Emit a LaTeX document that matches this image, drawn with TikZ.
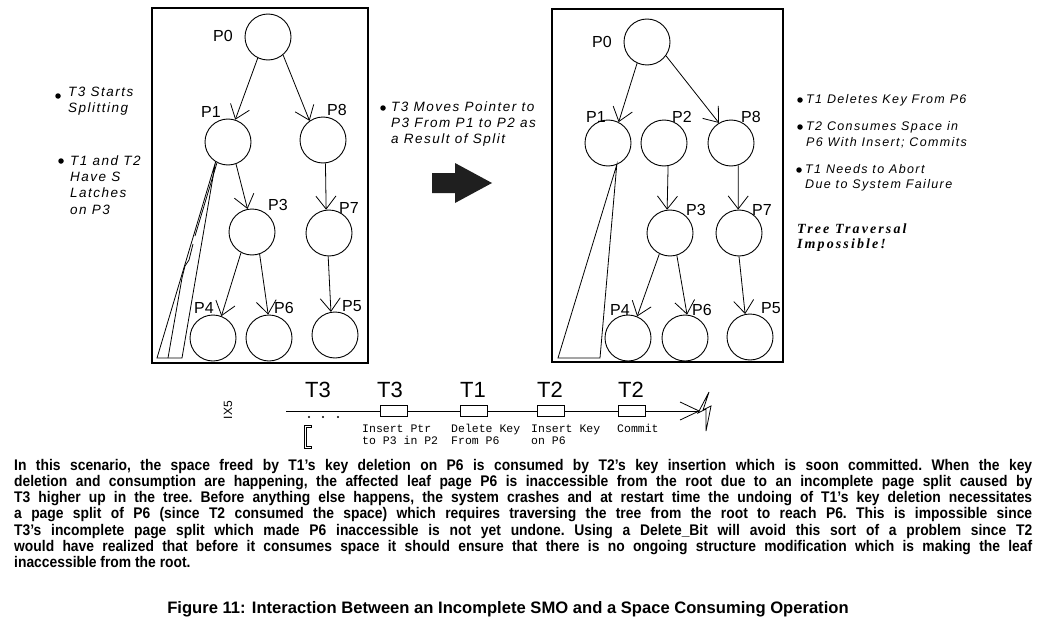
\documentclass[tikz,border=0pt]{standalone}
\usepackage{fontspec}
\setmainfont{Liberation Sans}
\newfontfamily\figfont[LetterSpace=11]{Liberation Sans}
\newfontfamily\tlfont{Liberation Mono}
\newfontfamily\exclfont[LetterSpace=15]{Liberation Serif}
\newfontfamily\bodyfont[FakeStretch=0.9]{Liberation Sans}
\usetikzlibrary{arrows.meta}
\begin{document}
\begin{tikzpicture}[x=1pt,y=-1pt,
  page/.style={circle,draw,line width=0.9pt,minimum size=46pt,inner sep=0pt},
  plabel/.style={font=\fontsize{16}{16}\selectfont,inner sep=0pt},
  link/.style={line width=0.8pt,-{Straight Barb[length=13pt,width=20pt,line width=0.8pt]}},
  frame/.style={line width=1.1pt},
  wedge/.style={line width=0.8pt,line join=miter},
  note/.style={font=\figfont\itshape\fontsize{13.5}{16.3}\selectfont,align=left,inner sep=0pt,anchor=west},
  rnote/.style={note,font=\figfont\itshape\fontsize{12.5}{15.5}\selectfont},
  dot/.style={circle,fill,inner sep=0pt,minimum size=5.5pt},
  tlabel/.style={font=\fontsize{22}{22}\selectfont,inner sep=0pt},
  tbox/.style={draw,fill=white,line width=0.8pt,minimum width=27pt,minimum height=11pt,inner sep=0pt},
  tnote/.style={font=\tlfont\fontsize{11.5}{11.5}\selectfont,align=left,inner sep=0pt,anchor=north west},
]
\useasboundingbox (0,0) rectangle (1047,634);
\fill[white] (0,0) rectangle (1047,634);

% ---------- left frame and tree ----------
\draw[frame] (152,8) rectangle (368,363);
\node[page] (LP0) at (268,37) {};
\node[page] (LP1) at (228,142) {};
\node[page] (LP8) at (323,140) {};
\node[page] (LP3) at (252,232) {};
\node[page] (LP7) at (329,233) {};
\node[page] (LP4) at (213,338) {};
\node[page] (LP6) at (269,338) {};
\node[page] (LP5) at (335,335) {};
\node[plabel] (LP0l) at (223,36) {P0};
\node[plabel] (LP1l) at (211,112) {P1};
\node[plabel] (LP8l) at (337,110) {P8};
\node[plabel] (LP3l) at (278,205) {P3};
\node[plabel] (LP7l) at (349,208) {P7};
\node[plabel] (LP4l) at (204,308) {P4};
\node[plabel] (LP6l) at (284,308) {P6};
\node[plabel] (LP5l) at (352,306) {P5};
\draw[link] (LP0.244) -- (LP1.72);
\draw[link] (LP0.310) -- (LP8.125);
\draw[link] (LP1.290) -- (LP3.101);
\draw[link] (LP8.276) -- (LP7.97);
\draw[link] (LP3.242) -- (LP4.69);
\draw[link] (LP3.289) -- (LP6.92);
\draw[link] (LP7.268) -- (LP5.100);
\draw[wedge] (LP1.238) -- (157,358) -- (182,358) -- cycle;
\draw[wedge] (LP1.242) -- (195,236);
\draw[wedge] (193,244) -- (189,260) -- (185,266) -- (182,278) -- (168,358);

% ---------- left notes ----------
\node[dot] (b1) at (58,96) {};
\node[note] (n1) at (68,101) {T3 Starts\\Splitting};
\node[dot] (b2) at (61,161) {};
\node[note] (n2) at (70,185) {T1 and T2\\Have S\\Latches\\on P3};

% ---------- middle ----------
\node[dot] (b3) at (383,108) {};
\node[note] (n3) at (391,124) {T3 Moves Pointer to\\P3 From P1 to P2 as\\a Result of Split};
\fill[black!88] (432,173) -- (455,173) -- (455,163) -- (492,183) -- (455,203) -- (455,193) -- (432,193) -- cycle;

% ---------- right frame and tree ----------
\draw[frame] (552,9) rectangle (783,362);
\node[page] (RP0) at (647,42) {};
\node[page] (RP1) at (608,143) {};
\node[page] (RP2) at (664,143) {};
\node[page] (RP8) at (731,143) {};
\node[page] (RP3) at (670,233) {};
\node[page] (RP7) at (739,233) {};
\node[page] (RP4) at (628,338) {};
\node[page] (RP6) at (685,338) {};
\node[page] (RP5) at (750,337) {};
\node[plabel] (RP0l) at (602,42) {P0};
\node[plabel] (RP1l) at (596,117) {P1};
\node[plabel] (RP2l) at (682,117) {P2};
\node[plabel] (RP8l) at (751,117) {P8};
\node[plabel] (RP3l) at (696,210) {P3};
\node[plabel] (RP7l) at (762,210) {P7};
\node[plabel] (RP4l) at (620,310) {P4};
\node[plabel] (RP6l) at (702,310) {P6};
\node[plabel] (RP5l) at (771,308) {P5};
\draw[link] (RP0.245) -- (RP1.63);
\draw[link] (RP0.324) -- (RP8.121);
\draw[link] (RP2.280) -- (RP3.97);
\draw[link] (RP8.288) -- (RP7.92);
\draw[link] (RP3.243) -- (RP4.67);
\draw[link] (RP3.287) -- (RP6.85);
\draw[link] (RP7.270) -- (RP5.102);
\draw[wedge] (RP1.292) -- (558,358) -- (600,358) -- cycle;

% ---------- right notes ----------
\node[dot] (b4) at (800,100) {};
\node[rnote] (n4) at (806,100) {T1 Deletes Key From P6};
\node[dot] (b5) at (800,127) {};
\node[rnote] (n5) at (806,135) {T2 Consumes Space in\\P6 With Insert; Commits};
\node[dot] (b6) at (799,170) {};
\node[rnote] (n6) at (805,178) {T1 Needs to Abort\\Due to System Failure};
\node[note,font=\exclfont\bfseries\itshape\fontsize{14}{15}\selectfont] (n7) at (797,238) {Tree Traversal\\Impossible!};

% ---------- time line ----------
\node[rotate=90,font=\fontsize{12}{12}\selectfont,inner sep=0pt] (ix) at (228,410) {IX5};
\coordinate (tstart) at (286,411);
\coordinate (tend) at (700,411);
\node[tbox] (tb1) at (394,411) {};
\node[tbox] (tb2) at (474,411) {};
\node[tbox] (tb3) at (551,411) {};
\node[tbox] (tb4) at (632,411) {};
\draw[line width=0.8pt] (tstart) -- (tb1) -- (tb2) -- (tb3) -- (tb4);
\draw[line width=0.8pt,-{Straight Barb[length=19pt,width=18pt,line width=0.8pt]}] (tb4) -- (tend);
\draw[line width=0.8pt,line join=miter] (709,392) -- (698,413) -- (706,409) -- (706,431) -- (711,406) -- (703,410) -- cycle;
\node[tlabel] (t1) at (318,390) {T3};
\node[tlabel] (t2) at (390,390) {T3};
\node[tlabel] (t3) at (473,390) {T1};
\node[tlabel] (t4) at (550,390) {T2};
\node[tlabel] (t5) at (631,390) {T2};
\fill (309,417) circle (1.1);
\fill (323,417) circle (1.1);
\fill (338,417) circle (1.1);
\draw[line width=0.6pt] (311,425) -- (304,425) -- (304,448) -- (311,448) -- (311,446) -- (306.5,446) -- (306.5,427) -- (311,427) -- cycle;
\node[tnote] (l1) at (362,424) {\vphantom{(}Insert Ptr\\to P3 in P2};
\node[tnote] (l2) at (451,424) {\vphantom{(}Delete Key\\From P6};
\node[tnote] (l3) at (531,424) {\vphantom{(}Insert Key\\on P6};
\node[tnote] (l4) at (617,424) {\vphantom{(}Commit};

% ---------- text ----------
\node[anchor=north west,inner sep=0pt,text width=1018pt,align=justify,
      font=\bodyfont\bfseries\fontsize{15.4}{16.2}\selectfont\frenchspacing] (body) at (14,459) {%
In this scenario, the space freed by T1’s key deletion on P6 is consumed by T2’s key insertion which is soon committed. When the key\linebreak
deletion and consumption are happening, the affected leaf page P6 is inaccessible from the root due to an incomplete page split caused by\linebreak
T3 higher up in the tree. Before anything else happens, the system crashes and at restart time the undoing of T1’s key deletion necessitates\linebreak
a page split of P6 (since T2 consumed the space) which requires traversing the tree from the root to reach P6. This is impossible since\linebreak
T3’s incomplete page split which made P6 inaccessible is not yet undone. Using a Delete\_Bit will avoid this sort of a problem since T2\linebreak
would have realized that before it consumes space it should ensure that there is no ongoing structure modification which is making the leaf\linebreak
inaccessible from the root.};
\node[font=\bfseries\fontsize{16.6}{16.6}\selectfont,inner sep=0pt] (cap) at (508,609) {Figure 11: Interaction Between an Incomplete SMO and a Space Consuming Operation};
\end{tikzpicture}
\end{document}
